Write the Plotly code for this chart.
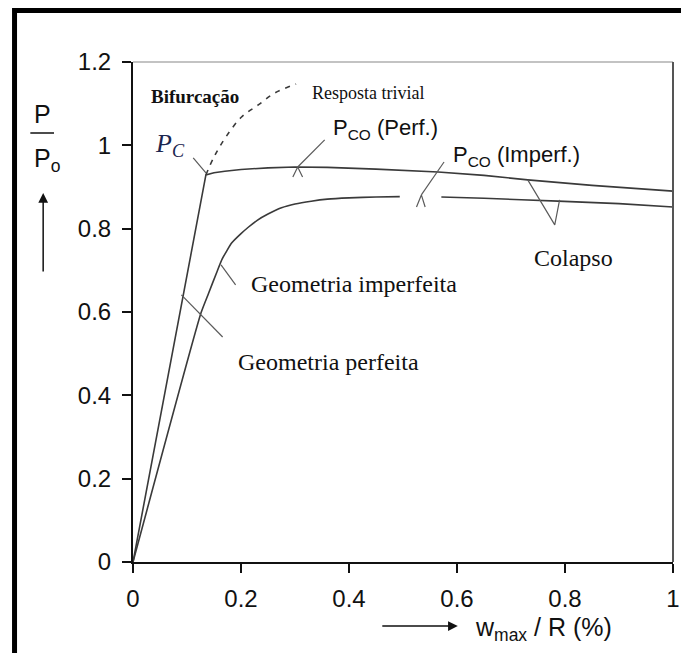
import plotly.graph_objects as go

# ---------------- data ----------------
perf_x = [0.0, 0.135, 0.15, 0.17, 0.20, 0.25, 0.30, 0.36, 0.45, 0.565, 0.65, 0.731, 0.85, 1.0]
perf_y = [0.0, 0.929, 0.934, 0.938, 0.942, 0.946, 0.948, 0.947, 0.943, 0.936, 0.928, 0.917, 0.904, 0.890]

imperf_x = [0.0, 0.126, 0.14, 0.155, 0.165, 0.183, 0.20, 0.214, 0.23, 0.25, 0.275, 0.30, 0.33, 0.36,
            0.40, 0.45, 0.494, None, 0.571, 0.65, 0.787, 0.90, 1.0]
imperf_y = [0.0, 0.598, 0.645, 0.695, 0.727, 0.766, 0.788, 0.804, 0.820, 0.835, 0.850, 0.859, 0.866, 0.871,
            0.874, 0.876, 0.877, None, 0.876, 0.873, 0.866, 0.86, 0.852]

trivial_x = [0.135, 0.15, 0.172, 0.201, 0.232, 0.263, 0.302]
trivial_y = [0.929, 0.972, 1.02, 1.068, 1.097, 1.126, 1.147]

leader_pc_x = [0.1115, 0.135]
leader_pc_y = [0.970, 0.934]
leader_pco_perf_x = [0.355, 0.305, None, 0.296, 0.305, 0.314]
leader_pco_perf_y = [1.013, 0.948, None, 0.924, 0.948, 0.924]
leader_pco_imperf_x = [0.576, 0.534, None, 0.525, 0.534, 0.541]
leader_pco_imperf_y = [0.960, 0.881, None, 0.852, 0.881, 0.852]
leader_colapso_x = [0.731, 0.781, 0.790]
leader_colapso_y = [0.917, 0.809, 0.869]
leader_geo_imperf_x = [0.163, 0.190]
leader_geo_imperf_y = [0.713, 0.665]
leader_geo_perf_x = [0.0896, 0.166]
leader_geo_perf_y = [0.641, 0.540]

x_ticks = [0, 0.2, 0.4, 0.6, 0.8, 1]
x_ticklabels = ["0", "0.2", "0.4", "0.6", "0.8", "1"]
y_ticks = [0, 0.2, 0.4, 0.6, 0.8, 1, 1.2]
y_ticklabels = ["0", "0.2", "0.4", "0.6", "0.8", "1", "1.2"]

# ---------------- figure ----------------
SERIF = "Liberation Serif"
SANS = "Liberation Sans"
CURVE = "#3a3a3a"
LEAD = "#5a5a5a"

fig = go.Figure()
fig.add_trace(go.Scatter(x=perf_x, y=perf_y, mode="lines", line=dict(color=CURVE, width=1.6),
                         hoverinfo="skip"))
fig.add_trace(go.Scatter(x=imperf_x, y=imperf_y, mode="lines",
                         line=dict(color=CURVE, width=1.6, shape="spline", smoothing=0.5),
                         connectgaps=False, hoverinfo="skip"))
fig.add_trace(go.Scatter(x=trivial_x, y=trivial_y, mode="lines", line=dict(color=CURVE, width=1.6, dash="5px,6px"),
                         line_shape="spline", hoverinfo="skip"))
for lx, ly in [(leader_pc_x, leader_pc_y), (leader_pco_perf_x, leader_pco_perf_y),
               (leader_pco_imperf_x, leader_pco_imperf_y), (leader_colapso_x, leader_colapso_y),
               (leader_geo_imperf_x, leader_geo_imperf_y), (leader_geo_perf_x, leader_geo_perf_y)]:
    fig.add_trace(go.Scatter(x=lx, y=ly, mode="lines", line=dict(color=LEAD, width=1.2),
                             connectgaps=False, hoverinfo="skip"))

# the page body has an 8px margin, so the figure starts at page pixel (8, 8)
def px2paper_x(px):
    return (px - 133) / 547.0

def px2paper_y(py):
    return (562 - py) / 500.0

annotations = [
    dict(x=0.115, y=1.118, xref="x", yref="y", text="<b>Bifurcação</b>", showarrow=False,
         font=dict(family=SERIF, size=19, color="#111"), xanchor="center", yanchor="middle"),
    dict(x=0.327, y=1.126, xref="x", yref="y", text="Resposta trivial", showarrow=False,
         font=dict(family=SERIF, size=18, color="#111"), xanchor="left", yanchor="middle"),
    dict(x=0.068, y=1.0, xref="x", yref="y", text="<i>P<sub>C</sub></i>", showarrow=False,
         font=dict(family=SERIF, size=26, color="#1c2650"), xanchor="center", yanchor="middle"),
    dict(x=0.366, y=1.040, xref="x", yref="y", text="P<sub>CO</sub> (Perf.)", showarrow=False,
         font=dict(family=SANS, size=22, color="#111"), xanchor="left", yanchor="middle"),
    dict(x=0.589, y=0.974, xref="x", yref="y", text="P<sub>CO</sub> (Imperf.)", showarrow=False,
         font=dict(family=SANS, size=22, color="#111"), xanchor="left", yanchor="middle"),
    dict(x=0.815, y=0.73, xref="x", yref="y", text="Colapso", showarrow=False,
         font=dict(family=SERIF, size=24, color="#111"), xanchor="center", yanchor="middle"),
    dict(x=0.214, y=0.667, xref="x", yref="y", text="Geometria imperfeita", showarrow=False,
         font=dict(family=SERIF, size=24, color="#111"), xanchor="left", yanchor="middle"),
    dict(x=0.19, y=0.48, xref="x", yref="y", text="Geometria perfeita", showarrow=False,
         font=dict(family=SERIF, size=24, color="#111"), xanchor="left", yanchor="middle"),
    # y axis title
    dict(x=px2paper_x(41), y=px2paper_y(114), xref="paper", yref="paper", text="P", showarrow=False,
         font=dict(family=SANS, size=25, color="#111"), xanchor="center", yanchor="middle"),
    dict(x=px2paper_x(31), y=px2paper_y(160), xref="paper", yref="paper", text="P<sub>o</sub>", showarrow=False,
         font=dict(family=SANS, size=25, color="#111"), xanchor="left", yanchor="middle"),
    dict(x=px2paper_x(42), y=px2paper_y(193), xref="paper", yref="paper", text="", showarrow=True,
         ax=0, ay=80, arrowhead=2, arrowsize=1.3, arrowwidth=1.5, arrowcolor="#111"),
    # x axis title
    dict(x=px2paper_x(462), y=px2paper_y(626), xref="paper", yref="paper", text="", showarrow=True,
         ax=-77, ay=0, arrowhead=2, arrowsize=1.3, arrowwidth=1.5, arrowcolor="#111"),
    dict(x=px2paper_x(477), y=px2paper_y(629), xref="paper", yref="paper", text="w<sub>max</sub> / R (%)",
         showarrow=False, font=dict(family=SANS, size=25, color="#111"), xanchor="left", yanchor="middle"),
]

shapes = [
    # fraction bar of y title
    dict(type="line", xref="paper", yref="paper", x0=px2paper_x(29), x1=px2paper_x(53),
         y0=px2paper_y(133), y1=px2paper_y(133), line=dict(color="#111", width=1.5)),
    # top and right frame lines of the plot
    dict(type="line", xref="paper", yref="paper", x0=0, x1=1, y0=1, y1=1, line=dict(color="#888", width=1.2)),
    dict(type="line", xref="paper", yref="paper", x0=1, x1=1, y0=0, y1=1, line=dict(color="#555", width=2)),
    # outer thick border
    dict(type="rect", xref="paper", yref="paper", x0=px2paper_x(13), x1=px2paper_x(720),
         y0=px2paper_y(720), y1=px2paper_y(10.5), line=dict(color="black", width=5), layer="above"),
]

fig.update_layout(
    width=681, height=645, autosize=False,
    margin=dict(l=125, r=9, t=54, b=91),
    paper_bgcolor="white", plot_bgcolor="white",
    showlegend=False,
    annotations=annotations, shapes=shapes,
    xaxis=dict(range=[0, 1], tickvals=x_ticks, ticktext=x_ticklabels, ticks="outside", ticklen=9,
               tickwidth=1.5, tickcolor="#111", showline=True, linecolor="#111", linewidth=2,
               showgrid=False, zeroline=False, tickfont=dict(family=SANS, size=24, color="#111"),
               ticklabelstandoff=5, fixedrange=True),
    yaxis=dict(range=[0, 1.2], tickvals=y_ticks, ticktext=y_ticklabels, ticks="outside", ticklen=9,
               tickwidth=1.5, tickcolor="#111", showline=True, linecolor="#111", linewidth=2,
               showgrid=False, zeroline=False, tickfont=dict(family=SANS, size=24, color="#111"),
               ticklabelstandoff=6, fixedrange=True),
)

fig.write_html("out.html")
